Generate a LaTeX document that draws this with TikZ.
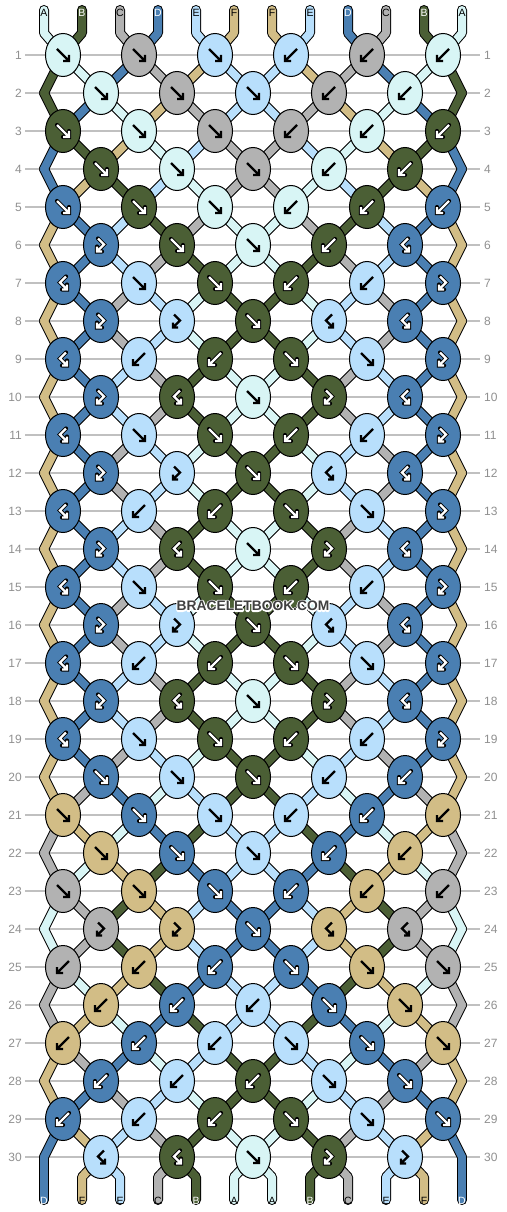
\documentclass[tikz,border=0pt]{standalone}
\usepackage{fontspec}
\setmainfont{Liberation Sans}
\usepackage{xstring}
\usetikzlibrary{shapes.geometric,calc}
\definecolor{ca}{HTML}{D8F5F5}
\definecolor{cb}{HTML}{4B5F35}
\definecolor{cc}{HTML}{B2B2B2}
\definecolor{cd}{HTML}{4A7FB2}
\definecolor{ce}{HTML}{B8DFFC}
\definecolor{cf}{HTML}{D2BD86}
\definecolor{rowgray}{HTML}{909090}
\definecolor{linegray}{HTML}{C0C0C0}
\definecolor{wmgray}{HTML}{404040}
\pgfdeclarelayer{bgl}\pgfdeclarelayer{strl}\pgfsetlayers{bgl,strl,main}

\newcommand\mkst[2]{\expandafter\def\csname S#1\endcsname{#2}}
\newcommand\mkrow[2]{\expandafter\def\csname K#1\endcsname{#2}}

% string colours after each row
\mkst{0}{abcdeffedcba}
\mkst{1}{badcfeefcdab}
\mkst{2}{bdafceecfadb}
\mkst{3}{dbfaecceafbd}
\mkst{4}{dfbeaccaebfd}
\mkst{5}{fdebcaacbedf}
\mkst{6}{fdecbaabcedf}
\mkst{7}{fdceabbaecdf}
\mkst{8}{fdceabbaecdf}
\mkst{9}{fdecbaabcedf}
\mkst{10}{fdecbaabcedf}
\mkst{11}{fdceabbaecdf}
\mkst{12}{fdceabbaecdf}
\mkst{13}{fdecbaabcedf}
\mkst{14}{fdecbaabcedf}
\mkst{15}{fdceabbaecdf}
\mkst{16}{fdceabbaecdf}
\mkst{17}{fdecbaabcedf}
\mkst{18}{fdecbaabcedf}
\mkst{19}{fdceabbaecdf}
\mkst{20}{fcdaebbeadcf}
\mkst{21}{cfadbeebdafc}
\mkst{22}{cafbdeedbfac}
\mkst{23}{acbfeddefbca}
\mkst{24}{acbfeddefbca}
\mkst{25}{cafbdeedbfac}
\mkst{26}{cfadbeebdafc}
\mkst{27}{fcdaebbeadcf}
\mkst{28}{fdceabbaecdf}
\mkst{29}{dfecbaabcefd}
\mkst{30}{dfecbaabcefd}

% knots: colour/type
\def\Rsev{d/BF,e/F,b/F,b/B,e/B,d/FB}
\def\Reig{d/FB,e/FB,b/F,e/BF,d/BF}
\def\Rnin{d/BF,e/B,b/B,b/F,e/F,d/FB}
\def\Rten{d/FB,b/BF,a/F,b/FB,d/BF}
\mkrow{1}{a/F,c/F,e/F,e/B,c/B,a/B}
\mkrow{2}{a/F,c/F,e/F,c/B,a/B}
\mkrow{3}{b/F,a/F,c/F,c/B,a/B,b/B}
\mkrow{4}{b/F,a/F,c/F,a/B,b/B}
\mkrow{5}{d/F,b/F,a/F,a/B,b/B,d/B}
\mkrow{6}{d/FB,b/F,a/F,b/B,d/BF}
\mkrow{7}{\Rsev}\mkrow{8}{\Reig}\mkrow{9}{\Rnin}\mkrow{10}{\Rten}
\mkrow{11}{\Rsev}\mkrow{12}{\Reig}\mkrow{13}{\Rnin}\mkrow{14}{\Rten}
\mkrow{15}{\Rsev}\mkrow{16}{\Reig}\mkrow{17}{\Rnin}\mkrow{18}{\Rten}
\mkrow{19}{\Rsev}
\mkrow{20}{d/F,e/F,b/F,e/B,d/B}
\mkrow{21}{f/F,d/F,e/F,e/B,d/B,f/B}
\mkrow{22}{f/F,d/F,e/F,d/B,f/B}
\mkrow{23}{c/F,f/F,d/F,d/B,f/B,c/B}
\mkrow{24}{c/FB,f/FB,d/F,f/BF,c/BF}
\mkrow{25}{c/B,f/B,d/B,d/F,f/F,c/F}
\mkrow{26}{f/B,d/B,e/B,d/F,f/F}
\mkrow{27}{f/B,d/B,e/B,e/F,d/F,f/F}
\mkrow{28}{d/B,e/B,b/B,e/F,d/F}
\mkrow{29}{d/B,e/B,b/B,b/F,e/F,d/F}
\mkrow{30}{e/BF,b/BF,a/F,b/FB,e/FB}

\newcommand\gF[1]{\draw[#1] (-6,-6)--(6,6) (0,6)--(6,6)--(6,0);}
\newcommand\gB[1]{\draw[#1] (6,-6)--(-6,6) (0,6)--(-6,6)--(-6,0);}
\newcommand\gFB[1]{\draw[#1] (-3,-6.5)--(3,-0.5)--(-4,6.5) (-4,1.5)--(-4,6.5)--(1,6.5);}
\newcommand\gBF[1]{\draw[#1] (3,-6.5)--(-3,-0.5)--(4,6.5) (4,1.5)--(4,6.5)--(-1,6.5);}

\tikzset{
 knot/.style={ellipse, draw=black, line width=1pt, minimum width=35pt, minimum height=43pt, inner sep=0pt},
 gblack/.style={line width=2.4pt, black, line cap=butt, line join=miter},
 gout/.style={line width=4.2pt, black, line cap=round, line join=miter},
 gwhite/.style={line width=2.2pt, white, line cap=butt, line join=miter},
 strout/.style={line width=10pt, black, line cap=round, line join=round},
 strin/.style={line width=8pt, line cap=round, line join=round},
 rownum/.style={text=rowgray, font=\fontsize{12}{12}\selectfont, inner sep=0pt},
 lbl/.style={font=\fontsize{10.5}{12}\selectfont, inner sep=0pt},
 wm/.style={font=\fontsize{13.8}{14}\selectfont\bfseries, inner sep=0pt},
}

\begin{document}
\begin{tikzpicture}[x=1pt,y=-1pt]
\useasboundingbox (0,0) rectangle (506,1212);

% knots
\foreach \r in {1,...,30}{
  \pgfmathsetmacro\yy{55+38*(\r-1)}
  \pgfmathtruncatemacro\od{mod(\r,2)}
  \edef\kl{\csname K\r\endcsname}
  \foreach \kc/\kt [count=\k from 0] in \kl {
    \ifnum\od=1 \pgfmathsetmacro\xx{63+76*\k}\else\pgfmathsetmacro\xx{101+76*\k}\fi
    \node[knot, fill=c\kc] (N-\r-\k) at (\xx,\yy) {};
    \begin{scope}[shift={(\xx,\yy)}]
      \def\isdark{0}\if\kc b\def\isdark{1}\fi\if\kc d\def\isdark{1}\fi
      \ifnum\isdark=1 \csname g\kt\endcsname{gout}\csname g\kt\endcsname{gwhite}\else\csname g\kt\endcsname{gblack}\fi
    \end{scope}
  }
}

% string anchor points
\foreach \r in {1,...,30}{
  \pgfmathsetmacro\yy{55+38*(\r-1)}
  \pgfmathtruncatemacro\od{mod(\r,2)}
  \foreach \p in {0,...,11}{
    \ifnum\od=1
      \pgfmathtruncatemacro\kk{floor(\p/2)}
      \coordinate (P-\r-\p) at (N-\r-\kk.center);
    \else
      \ifnum\p=0 \coordinate (P-\r-\p) at (44,\yy);
      \else\ifnum\p=11 \coordinate (P-\r-\p) at (462,\yy);
      \else
        \pgfmathtruncatemacro\kk{floor((\p-1)/2)}
        \coordinate (P-\r-\p) at (N-\r-\kk.center);
      \fi\fi
    \fi
  }
}
\foreach \p in {0,...,11}{
  \pgfmathsetmacro\xs{44+38*\p}
  \coordinate (T-\p) at (\xs,10);
  \coordinate (TB-\p) at (\xs,33);
  \coordinate (BB-\p) at (\xs,1177);
  \coordinate (BE-\p) at (\xs,1200);
}

% strings
\begin{pgfonlayer}{strl}
\foreach \pass in {0,1}{
  \ifnum\pass=0 \tikzset{cur/.style={strout}}\else\tikzset{cur/.style={strin}}\fi
  \foreach \r in {0,...,30}{
    \edef\st{\csname S\r\endcsname}
    \pgfmathtruncatemacro\rn{\r+1}
    \foreach \p in {0,...,11}{
      \pgfmathtruncatemacro\pp{\p+1}
      \StrChar{\st}{\pp}[\ch]
      \ifnum\r=0 \draw[color=c\ch, cur] (T-\p) -- (TB-\p) -- (P-1-\p);
      \else\ifnum\r=30 \draw[color=c\ch, cur] (P-30-\p) -- (BB-\p) -- (BE-\p);
      \else \draw[color=c\ch, cur] (P-\r-\p) -- (P-\rn-\p);
      \fi\fi
    }
  }
}
\end{pgfonlayer}

% string labels
\foreach \p in {0,...,11}{
  \pgfmathtruncatemacro\pp{\p+1}
  \StrChar{abcdeffedcba}{\pp}[\ch]
  \def\lc{black}\if\ch b\def\lc{white}\fi\if\ch d\def\lc{white}\fi
  \node[lbl, text=\lc] (LT-\p) at ($(T-\p)+(0,3)$) {\expandafter\uppercase\expandafter{\ch}};
  \StrChar{dfecbaabcefd}{\pp}[\ch]
  \def\lc{black}\if\ch b\def\lc{white}\fi\if\ch d\def\lc{white}\fi
  \node[lbl, text=\lc] (LB-\p) at ($(BE-\p)+(0,0.5)$) {\expandafter\uppercase\expandafter{\ch}};
}

% rulings and row numbers
\begin{pgfonlayer}{bgl}
\fill[white] (0,0) rectangle (506,1212);
\foreach \r in {1,...,30}{
  \pgfmathsetmacro\yy{55+38*(\r-1)}
  \draw[linegray, line width=1.3pt] (25,\yy) -- (480,\yy);
  \node[rownum, anchor=east] (RL-\r) at (22,\yy) {\r};
  \node[rownum, anchor=west] (RR-\r) at (484,\yy) {\r};
}
\end{pgfonlayer}

% watermark: white outline drawn with text render mode 1, then filled text
\node[wm, text=wmgray] (WM) at (253,606) {\special{pdf:literal direct 1 1 1 RG 2.6 w 1 j 1 Tr}\rlap{BRACELETBOOK.COM}\special{pdf:literal direct 0 Tr}BRACELETBOOK.COM};
\end{tikzpicture}
\end{document}
